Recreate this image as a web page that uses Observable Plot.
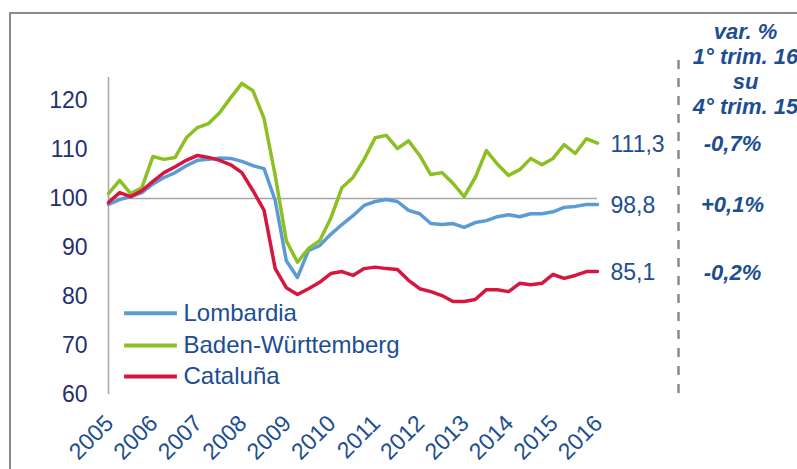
<!DOCTYPE html>
<html>
<head>
<meta charset="utf-8">
<script src="https://cdn.jsdelivr.net/npm/d3@7"></script>
<script src="https://cdn.jsdelivr.net/npm/@observablehq/plot@0.6"></script>
<style>
  html, body { margin: 0; padding: 0; background: #fff; }
  #wrap { position: relative; width: 797px; height: 469px; overflow: hidden; }
  #frame { position: absolute; left: 9px; top: 12px; right: -10px; bottom: -10px;
           border-top: 2.5px solid #8c8c8c; border-left: 2.5px solid #8c8c8c; pointer-events: none; }
  #chart { position: absolute; left: 0; top: 0; }
</style>
</head>
<body>
<div id="wrap"><div id="frame"></div><div id="chart"></div></div>
<script>
// Quarterly index, 2005 Q1 .. 2016 Q1 (45 quarters)
const yearLabels = ["2005","2006","2007","2008","2009","2010","2011","2012","2013","2014","2015","2016"];
const yTicks = [60, 70, 80, 90, 100, 110, 120];

const lombardia = [98.8, 99.8, 100.4, 101.2, 103.0, 104.3, 105.3, 106.7, 107.8, 108.0, 108.3, 108.2,
  107.6, 106.7, 106.1, 99.6, 87.3, 83.9, 89.4, 90.4, 92.7, 94.7, 96.5, 98.6, 99.4, 99.8, 99.4,
  97.6, 96.9, 94.9, 94.7, 94.9, 94.1, 95.1, 95.5, 96.3, 96.7, 96.3, 96.9, 96.9, 97.3, 98.2, 98.4, 98.8, 98.8];
const baden = [101.0, 103.7, 101.0, 102.2, 108.6, 108.0, 108.4, 112.4, 114.5, 115.3, 117.5, 120.6,
  123.5, 122.0, 116.3, 104.7, 91.4, 87.0, 89.8, 91.4, 96.0, 102.2, 104.3, 108.0, 112.4, 112.9, 110.2,
  111.8, 108.8, 104.9, 105.3, 103.1, 100.4, 104.3, 109.8, 107.0, 104.7, 105.9, 108.2, 106.9, 108.2, 111.0, 109.2, 112.2, 111.3];
const cataluna = [99.2, 101.2, 100.4, 101.6, 103.5, 105.3, 106.5, 107.8, 108.8, 108.4, 107.8, 106.9,
  105.3, 101.6, 97.6, 85.7, 81.8, 80.4, 81.6, 82.9, 84.7, 85.1, 84.3, 85.7, 86.0, 85.7, 85.5,
  83.3, 81.6, 81.0, 80.2, 79.0, 79.0, 79.4, 81.4, 81.4, 81.0, 82.7, 82.4, 82.7, 84.5, 83.7, 84.3, 85.1, 85.1];

const seriesNames = ["Lombardia", "Baden-Württemberg", "Cataluña"];
const seriesColors = ["#5b9bd5", "#8dbf22", "#d7163f"];
const endLabels = ["98,8", "111,3", "85,1"];
const varLabels = ["+0,1%", "-0,7%", "-0,2%"];
const headerText = "var. %\n1° trim. 16\nsu\n4° trim. 15";

const seriesValues = [lombardia, baden, cataluna];
const rows = [];
seriesNames.forEach((name, s) => seriesValues[s].forEach((v, i) => rows.push({series: name, q: i, v})));
const last = seriesNames.map((name, s) => ({series: name, q: seriesValues[s].length - 1,
  v: seriesValues[s][seriesValues[s].length - 1], label: endLabels[s], varLabel: varLabels[s]}));
const drawOrder = ["Lombardia", "Baden-Württemberg", "Cataluña"];

const navy = "#1f3171";
const blueText = "#1c4e91";
const font = "'Liberation Sans', Arial, sans-serif";

// legend placement (in scale units)
const legendRows = seriesNames.map((name, s) => ({series: name, y: [76.6, 70.0, 63.7][s]}));

const chart = Plot.plot({
  width: 797,
  height: 469,
  marginLeft: 108,
  marginRight: 200,
  marginTop: 75.6,
  marginBottom: 75,
  x: {domain: [0, 44], axis: null},
  y: {domain: [60, 125], axis: null},
  color: {domain: seriesNames, range: seriesColors},
  style: {fontFamily: font, background: "transparent", overflow: "visible"},
  marks: [
    Plot.ruleX([0], {y1: 60, y2: 124.7, stroke: "#a6a6a6", strokeWidth: 1.5}),
    Plot.ruleY([100], {x1: 0, x2: 44, stroke: "#a6a6a6", strokeWidth: 1.5}),
    Plot.text(yTicks, {x: 0, y: d => d, text: d => String(d), textAnchor: "end", dx: -21, fontSize: 23, fill: navy}),
    Plot.text(yearLabels, {x: (d, i) => i * 4, y: 60, text: d => d, dy: 25, dx: 1, rotate: -45, textAnchor: "end", fontSize: 23, fill: blueText}),
    ...drawOrder.map(name => Plot.line(rows.filter(r => r.series === name),
      {x: "q", y: "v", stroke: "series", strokeWidth: 3.5, strokeLinejoin: "round", strokeLinecap: "round"})),
    Plot.text(last, {x: "q", y: "v", text: "label", dx: 13, dy: 1, textAnchor: "start", fontSize: 23, fill: blueText}),
    Plot.ruleX([44], {dx: 81, y1: 60.2, y2: 130, stroke: "#8a8a8a", strokeWidth: 2.5, strokeDasharray: "9,9"}),
    Plot.text(last, {x: "q", y: "v", text: "varLabel", dx: 135, dy: 1, textAnchor: "middle", fontSize: 22,
      fontWeight: "bold", fontStyle: "italic", fill: blueText}),
    Plot.text([headerText], {x: 44, y: 125, dx: 148, dy: -7.6, textAnchor: "middle", lineHeight: 1.14,
      fontSize: 22, fontWeight: "bold", fontStyle: "italic", fill: blueText}),
    Plot.ruleY(legendRows, {y: "y", x1: 1.45, x2: 6.2, stroke: "series", strokeWidth: 4}),
    Plot.text(legendRows, {y: "y", x: 6.75, text: "series", textAnchor: "start", fontSize: 24, fill: blueText})
  ]
});
document.getElementById("chart").appendChild(chart);
</script>
</body>
</html>
